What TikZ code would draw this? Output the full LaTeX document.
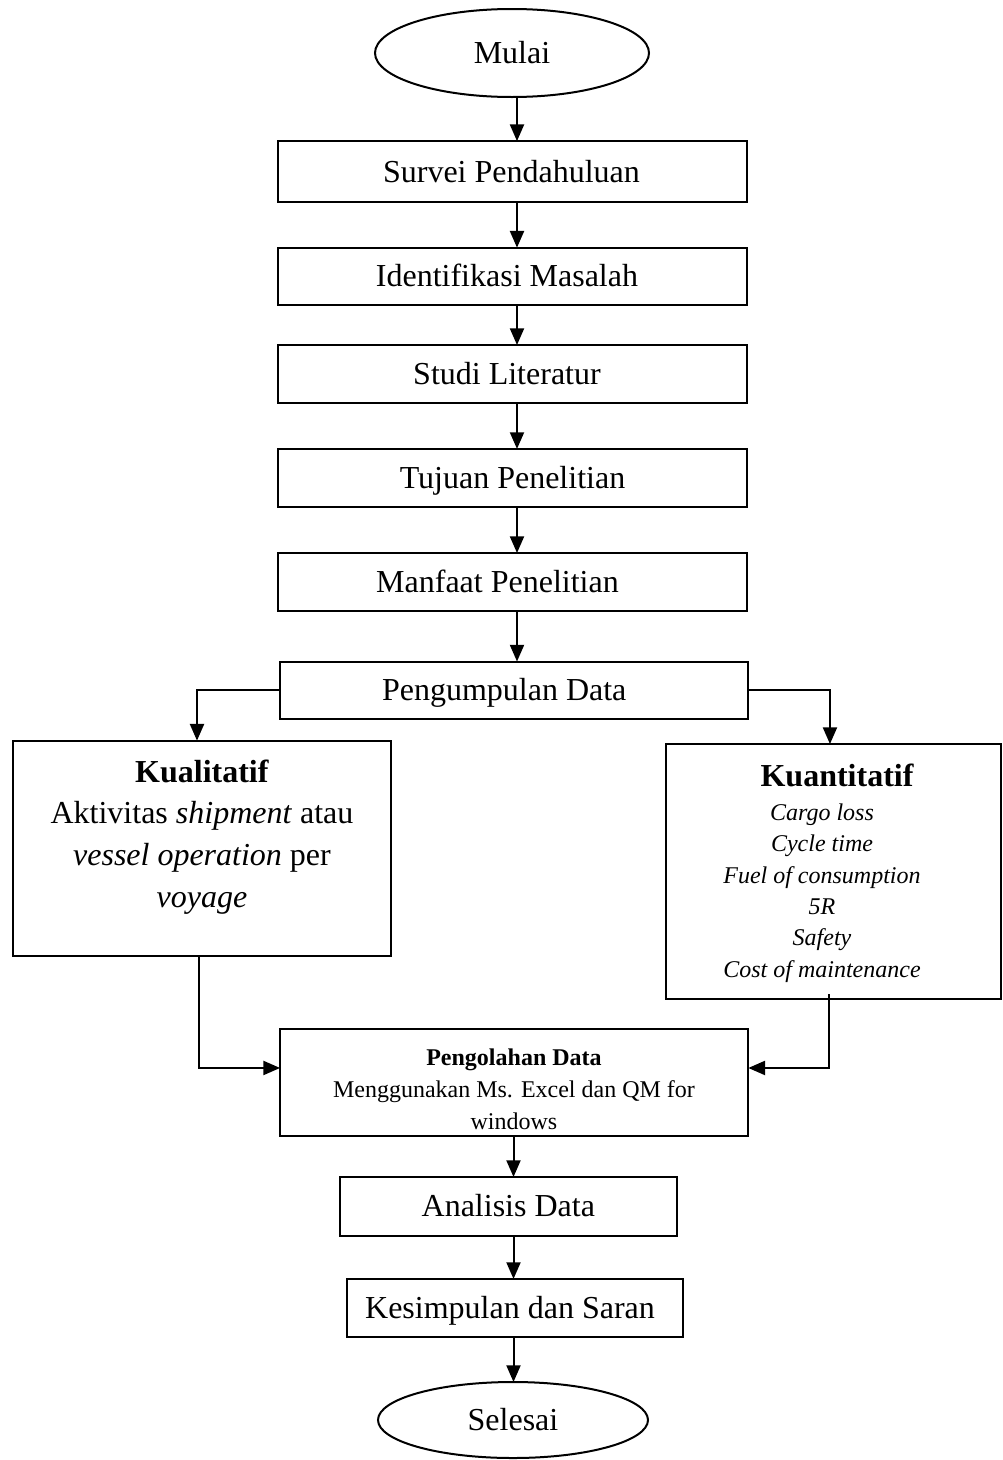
\documentclass[tikz,border=0pt]{standalone}
\usepackage{fontspec}
\setmainfont{Liberation Serif}
\usetikzlibrary{shapes.geometric,arrows.meta}
\tikzset{
  base/.style={draw, inner sep=0pt, outer sep=0pt, line width=1.5pt,
    font=\fontsize{24}{28}\selectfont, text height=15.8pt, text depth=0pt},
  stepbox/.style={base, rectangle},
  term/.style={base, ellipse},
  plainbox/.style={draw, rectangle, inner sep=0pt, outer sep=0pt, line width=1.5pt},
  arr/.style={line width=1.5pt, -{Triangle[length=12.5pt,width=10.5pt]}},
  txt/.style={inner sep=0pt, align=center}
}
\begin{document}
\begin{tikzpicture}[x=0.75pt,y=-0.75pt]
\useasboundingbox (0,0) rectangle (1003,1460);

% main column
\node[term, minimum width=205.5pt, minimum height=66pt] (mulai) at (512,53) {Mulai};
\node[stepbox, minimum width=351.3pt, minimum height=45.75pt] (survei) at (512.5,171.6) {\kern-1.5pt Survei Pendahuluan};
\node[stepbox, minimum width=351.3pt, minimum height=43pt] (ident) at (512.5,276.3) {\kern-8.25pt Identifikasi Masalah};
\node[stepbox, minimum width=351.3pt, minimum height=43.5pt] (studi) at (512.5,374) {\kern-8.25pt Studi Literatur};
\node[stepbox, minimum width=351.3pt, minimum height=43.3pt] (tujuan) at (512.5,477.8) {Tujuan Penelitian};
\node[stepbox, minimum width=351.3pt, minimum height=43.5pt] (manfaat) at (512.5,582) {\kern-22.5pt Manfaat Penelitian};
\node[stepbox, minimum width=350.6pt, minimum height=42.75pt] (kumpul) at (514.2,690) {\kern-15pt Pengumpulan Data};

% side boxes
\node[plainbox, minimum width=283pt, minimum height=161.5pt] (kual) at (202,848.3) {};
\node[txt, font=\fontsize{24}{31.3}\selectfont] (kualtxt) at (202,837)
  {\textbf{Kualitatif}\\Aktivitas \textit{shipment} atau\\\textit{vessel operation} per\\\textit{voyage}};

\node[plainbox, minimum width=251.5pt, minimum height=191.5pt] (kuan) at (833.3,871.7) {};
\node[txt, font=\fontsize{24}{28}\selectfont\bfseries] (kuantitle) at (837,775) {Kuantitatif};
\node[txt, font=\fontsize{18}{23.6}\selectfont\itshape] (kuanlist) at (822,893)
  {Cargo loss\\Cycle time\\Fuel of consumption\\5R\\Safety\\Cost of maintenance};

% lower column
\node[plainbox, minimum width=351.2pt, minimum height=79.8pt] (olah) at (514.2,1082.5) {};
\node[txt, font=\fontsize{18}{24}\selectfont] (olahtxt) at (514,1089)
  {\textbf{Pengolahan Data}\\Menggunakan Ms. Excel dan QM for\\windows};
\node[stepbox, minimum width=252.5pt, minimum height=44pt] (analisis) at (508.3,1206.3) {Analisis Data};
\node[stepbox, minimum width=252pt, minimum height=43.3pt] (kesimpulan) at (515,1307.8) {\kern-7.5pt Kesimpulan dan Saran};
\node[term, minimum width=202.5pt, minimum height=57pt] (selesai) at (513,1420) {Selesai};

% connectors
\coordinate (ax) at (517,0);
\coordinate (bx) at (513.5,0);
\draw[arr] (mulai.south -| ax) -- (survei.north -| ax);
\draw[arr] (survei.south -| ax) -- (ident.north -| ax);
\draw[arr] (ident.south -| ax) -- (studi.north -| ax);
\draw[arr] (studi.south -| ax) -- (tujuan.north -| ax);
\draw[arr] (tujuan.south -| ax) -- (manfaat.north -| ax);
\draw[arr] (manfaat.south -| ax) -- (kumpul.north -| ax);

\draw[arr] (kumpul.west) -| ([xshift=-3.75pt]kual.north);
\draw[arr] (kumpul.east) -| ([xshift=-2.5pt]kuan.north);
\draw[arr] ([xshift=-2.6pt]kual.south) |- ([yshift=10.9pt]olah.west);
\draw[arr] ([xshift=-3pt,yshift=3.75pt]kuan.south) |- ([yshift=10.9pt]olah.east);

\draw[arr] (olah.south -| bx) -- (analisis.north -| bx);
\draw[arr] (analisis.south -| bx) -- (kesimpulan.north -| bx);
\draw[arr] (kesimpulan.south -| bx) -- (selesai.north -| bx);
\end{tikzpicture}
\end{document}
